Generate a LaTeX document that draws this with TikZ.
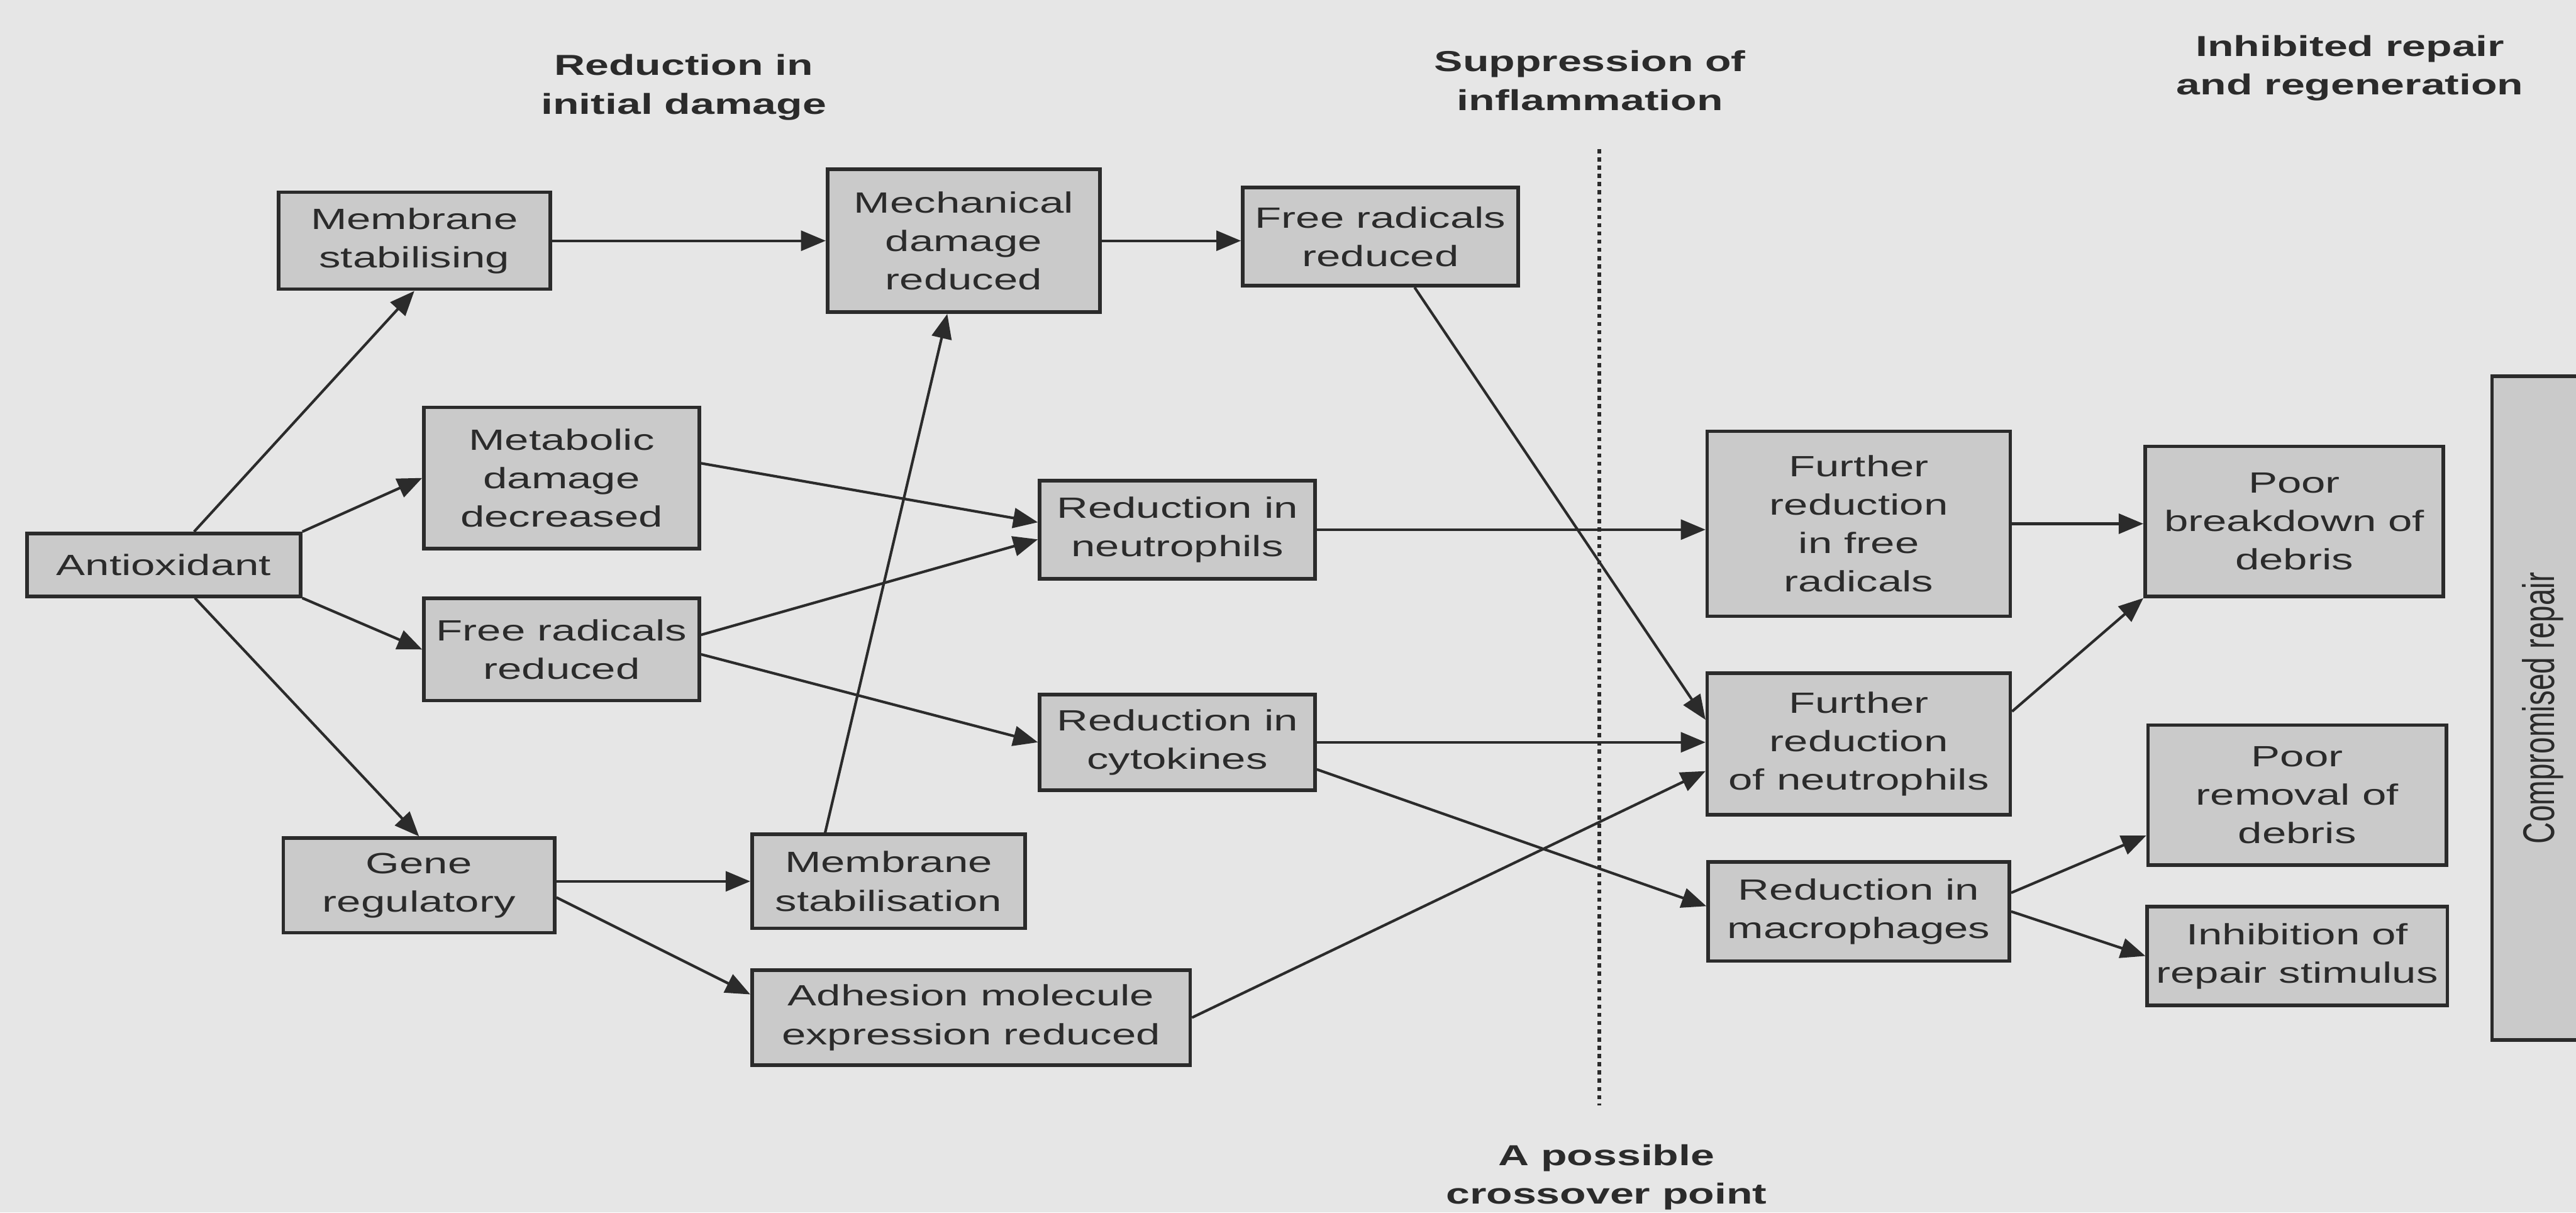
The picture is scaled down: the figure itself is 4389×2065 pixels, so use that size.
\documentclass[tikz,border=0pt]{standalone}
\usepackage{fontspec}
\usepackage{tikz}
\usetikzlibrary{arrows.meta,positioning}
\newfontfamily\boxfam[FakeStretch=1.48]{Liberation Sans}
\newfontfamily\sidefam{Liberation Sans}
\definecolor{PageGray}{HTML}{E6E6E6}
\definecolor{BoxGray}{HTML}{CACACA}
\definecolor{InkGray}{HTML}{2B2B2B}
\tikzset{
  cellBox/.style={
    draw=InkGray,
    fill=BoxGray,
    line width=0.06cm,
    inner sep=0pt,
    align=center,
    text=InkGray,
    font=\boxfam\fontsize{14.2pt}{18.6pt}\selectfont
  },
  headText/.style={
    align=center,
    text=InkGray,
    font=\boxfam\bfseries\fontsize{14pt}{18.8pt}\selectfont
  },
  flowArrow/.style={
    draw=InkGray,
    line width=0.045cm,
    -{Triangle[length=0.42cm,width=0.34cm]}
  },
  crossLine/.style={
    draw=InkGray,
    line width=0.07cm,
    dash pattern=on 0.07cm off 0.07cm
  }
}
\begin{document}
\begin{tikzpicture}[x=0.01cm,y=-0.01cm]
    \useasboundingbox (0,0) rectangle (4389,2065);
    \fill[PageGray] (0,0) rectangle (4389,2065);

    % Column headings
    \node (hd_damage) [headText] at (1165,149) {Reduction in\\initial damage};
    \node (hd_inflam) [headText] at (2709,137) {Suppression of\\inflammation};
    \node (hd_repair) [headText] at (4004,116) {Inhibited repair\\and regeneration};
    \node (hd_cross) [headText] at (2737,2005) {A possible\\crossover point};

    % Crossover line
    \coordinate (cross_top) at (2725,254);
    \coordinate (cross_bot) at (2725,1883);
    \draw [crossLine] (cross_top) -- (cross_bot);

    % Antioxidant and its first effects
    \node (anti) [cellBox, minimum width=4.66cm, minimum height=1.07cm] at (279,962) {Antioxidant};
    \node (membStab) [cellBox, minimum width=4.63cm, minimum height=1.65cm] at (706,410) {Membrane\\stabilising};
    \node (meta) [cellBox, minimum width=4.69cm, minimum height=2.40cm] at (957,814) {Metabolic\\damage\\decreased};
    \node (frLeft) [cellBox, below=0.79cm of meta, minimum width=4.69cm, minimum height=1.74cm] {Free radicals\\reduced};
    \node (gene) [cellBox, minimum width=4.62cm, minimum height=1.61cm] at (714,1508) {Gene\\regulatory};

    % Reduction in initial damage
    \node (mech) [cellBox, minimum width=4.64cm, minimum height=2.43cm] at (1642,410) {Mechanical\\damage\\reduced};
    \node (frTop) [cellBox, minimum width=4.69cm, minimum height=1.67cm] at (2352,403) {Free radicals\\reduced};
    \node (neut) [cellBox, minimum width=4.69cm, minimum height=1.67cm] at (2006,902) {Reduction in\\neutrophils};
    \node (cyto) [cellBox, below=1.91cm of neut, minimum width=4.69cm, minimum height=1.63cm] {Reduction in\\cytokines};
    \node (membStb2) [cellBox, minimum width=4.65cm, minimum height=1.60cm] at (1514,1501) {Membrane\\stabilisation};
    \node (adhes) [cellBox, below=0.65cm of membStb2.south west, anchor=north west, minimum width=7.46cm, minimum height=1.62cm] {Adhesion molecule\\expression reduced};

    % Suppression of inflammation
    \node (furFree) [cellBox, minimum width=5.16cm, minimum height=3.15cm] at (3167,892) {Further\\reduction\\in free\\radicals};
    \node (furNeut) [cellBox, below=0.91cm of furFree, minimum width=5.16cm, minimum height=2.41cm] {Further\\reduction\\of neutrophils};
    \node (macro) [cellBox, below=0.74cm of furNeut, minimum width=5.13cm, minimum height=1.69cm] {Reduction in\\macrophages};

    % Inhibited repair
    \node (poorBreak) [cellBox, minimum width=5.08cm, minimum height=2.55cm] at (3909,888) {Poor\\breakdown of\\debris};
    \node (poorRem) [cellBox, minimum width=5.08cm, minimum height=2.38cm] at (3914,1354) {Poor\\removal of\\debris};
    \node (inhib) [cellBox, below=0.65cm of poorRem, minimum width=5.11cm, minimum height=1.68cm] {Inhibition of\\repair stimulus};
    \node (compRep) [cellBox, rotate=90, minimum width=11.30cm, minimum height=1.72cm, font=\sidefam\fontsize{14.5pt}{17pt}\selectfont] at (4332,1206) {\scalebox{1}[1.48]{Compromised repair}};

    % Connectors
    \draw [flowArrow] (anti) -- (membStab.south);
    \draw [flowArrow] (anti.north east) -- (meta.west);
    \draw [flowArrow] (anti.south east) -- (frLeft.west);
    \draw [flowArrow] (anti) -- (gene.north);
    \draw [flowArrow] (membStab) -- (mech);
    \draw [flowArrow] (mech.east) -- (mech.east -| frTop.west);
    \draw [flowArrow] (meta.6) -- (neut.177);
    \draw [flowArrow] (frLeft.6) -- (neut.-176);
    \draw [flowArrow] (frLeft.-2) -- (cyto.west);
    \draw [flowArrow] (membStb2.west -| gene.east) -- (membStb2.west);
    \draw [flowArrow] (gene.-5) -- (adhes.174);
    \draw [flowArrow] ([xshift=-1.08cm]membStb2.north) -- ([xshift=-0.28cm]mech.south);
    \draw [flowArrow] (neut.east) -- (neut.east -| furFree.west);
    \draw [flowArrow] (frTop) -- (furNeut.171);
    \draw [flowArrow] (cyto.east) -- (cyto.east -| furNeut.west);
    \draw [flowArrow] (cyto.-11) -- (macro.178);
    \draw [flowArrow] (adhes.east) -- (furNeut.190);
    \draw [flowArrow] (furFree.east) -- (furFree.east -| poorBreak.west);
    \draw [flowArrow] (furNeut.12) -- (poorBreak.south west);
    \draw [flowArrow] (macro.7) -- (poorRem.195);
    \draw [flowArrow] (macro.east) -- (inhib.west);
\end{tikzpicture}
\end{document}
